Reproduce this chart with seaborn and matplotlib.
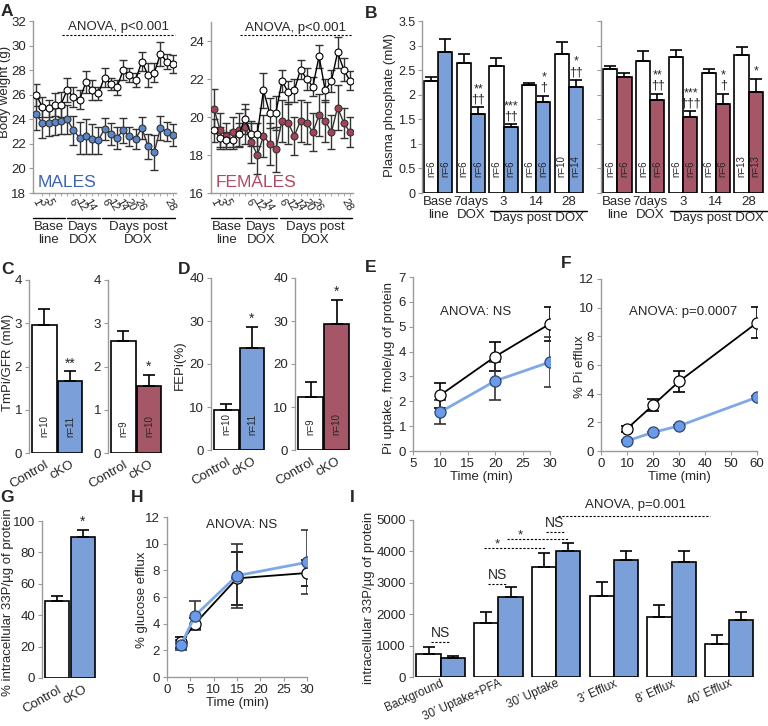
import numpy as np
import pandas as pd
import matplotlib
matplotlib.use("Agg")
import matplotlib.pyplot as plt
import seaborn as sns

sns.set_style("ticks")
plt.rcParams['font.family'] = ['Liberation Sans', 'DejaVu Sans']
plt.rcParams['font.size'] = 9

# ---------------- data ----------------
# A: body weight, 23 measurements
a_male_ctrl = [26.0, 25.0, 24.9, 25.2, 25.2, 26.4, 25.8, 25.6, 27.0, 26.4, 26.1, 27.4,
               26.9, 26.6, 28.0, 27.6, 27.2, 28.7, 27.6, 27.8, 29.3, 28.7, 28.5]
a_male_ctrl_err = [0.9, 0.8, 0.7, 0.9, 1.0, 1.0, 0.8, 0.8, 0.9, 0.8, 0.5, 0.8,
                   0.5, 0.6, 0.8, 0.6, 0.6, 0.8, 1.0, 0.8, 1.0, 0.6, 0.7]
a_male_cko = [24.4, 23.7, 23.7, 23.8, 23.9, 24.0, 23.1, 22.5, 22.6, 22.4, 22.3, 23.2,
              22.8, 22.5, 23.1, 22.6, 22.4, 23.3, 21.8, 21.3, 23.3, 23.0, 22.7]
a_male_cko_err = [1.3, 1.2, 1.1, 1.1, 1.1, 1.2, 1.2, 1.3, 1.4, 1.2, 1.1, 0.9,
                  0.9, 0.9, 1.0, 0.8, 0.8, 0.9, 1.0, 1.4, 1.0, 0.8, 0.9]
a_fem_ctrl = [19.3, 18.9, 18.8, 18.8, 19.1, 19.9, 19.1, 19.1, 21.4, 20.2, 20.2, 21.9,
              21.3, 21.4, 22.5, 22.0, 21.6, 23.2, 21.4, 21.9, 23.4, 22.5, 21.9]
a_fem_ctrl_err = [0.6, 0.6, 0.4, 0.5, 0.6, 0.8, 0.6, 0.6, 0.9, 0.8, 0.9, 0.6,
                  0.6, 0.6, 0.5, 0.6, 0.5, 0.6, 0.6, 0.6, 0.8, 0.6, 0.5]
a_fem_cko = [20.4, 19.3, 19.0, 19.2, 19.3, 19.5, 18.7, 18.0, 19.0, 18.6, 18.3, 19.8,
             19.7, 19.0, 19.8, 19.7, 19.2, 20.1, 19.8, 19.2, 20.5, 19.7, 19.2]
a_fem_cko_err = [1.1, 0.9, 0.7, 0.8, 0.9, 0.9, 1.1, 1.0, 1.1, 1.1, 1.2, 1.1,
                 1.1, 1.0, 1.1, 1.1, 1.0, 1.1, 1.1, 0.9, 1.2, 0.8, 0.8]
a_tick_pos = [0, 1.1, 2.2, 5.8, 7.2, 8.7, 11.1, 12.4, 13.7, 15.2, 16.7, 21.5]
a_tick_labels = ['1', '3', '5', '6', '12', '14', '6', '12', '14', '20', '26', '28']
a_groups = ['Base\nline', 'Days\nDOX', 'Days post\nDOX']

# B: plasma phosphate
b_groups = ['Base\nline', '7days\nDOX', '3', '14', '28']
b_male_ctrl = [2.27, 2.65, 2.58, 2.20, 2.82]
b_male_ctrl_err = [0.10, 0.17, 0.17, 0.03, 0.25]
b_male_cko = [2.86, 1.60, 1.35, 1.85, 2.15]
b_male_cko_err = [0.27, 0.14, 0.05, 0.13, 0.15]
b_male_n = [(6, 6), (6, 6), (6, 6), (6, 6), (10, 14)]
b_male_sig = ['', '**\n††', '***\n††', '*\n†', '*\n††']
b_fem_ctrl = [2.52, 2.69, 2.76, 2.44, 2.80]
b_fem_ctrl_err = [0.07, 0.20, 0.14, 0.08, 0.17]
b_fem_cko = [2.37, 1.90, 1.54, 1.82, 2.06]
b_fem_cko_err = [0.07, 0.12, 0.12, 0.20, 0.26]
b_fem_n = [(6, 6), (6, 6), (6, 6), (6, 6), (13, 13)]
b_fem_sig = ['', '**\n††', '***\n†††', '*\n†', '*']

# C, D, G: two-bar panels
genotypes = ['Control', 'cKO']
c_male = [2.95, 1.67]; c_male_err = [0.37, 0.22]; c_male_n = [10, 11]
c_fem = [2.58, 1.56]; c_fem_err = [0.25, 0.25]; c_fem_n = [9, 10]
d_male = [9.3, 23.8]; d_male_err = [1.3, 4.7]; d_male_n = [10, 11]
d_fem = [12.4, 29.3]; d_fem_err = [3.4, 5.6]; d_fem_n = [9, 10]
g_vals = [49.0, 89.5]; g_err = [3.5, 4.5]

# E: Pi uptake
e_time = [10, 20, 30]
e_ctrl = [2.25, 3.80, 5.12]; e_ctrl_err = [0.50, 0.60, 0.68]
e_cko = [1.57, 2.82, 3.58]; e_cko_err = [0.50, 0.75, 1.02]
# F: Pi efflux
f_time = [10, 20, 30, 60]
f_ctrl = [1.55, 3.20, 4.85, 8.95]; f_ctrl_err = [0.20, 0.42, 0.70, 1.10]
f_cko = [0.70, 1.30, 1.75, 3.75]; f_cko_err = [0.05, 0.06, 0.08, 0.10]
# H: glucose efflux
h_time = [3, 6, 15, 30]
h_ctrl = [2.6, 4.0, 7.4, 7.8]; h_ctrl_err = [0.4, 0.4, 2.0, 1.0]
h_cko = [2.4, 4.6, 7.6, 8.6]; h_cko_err = [0.4, 1.1, 2.4, 2.4]
# I: intracellular 33P
i_groups = ['Background', '30’ Uptake+PFA', '30’ Uptake', '3’ Efflux', '8’ Efflux', '40’ Efflux']
i_ctrl = [740, 1720, 3500, 2570, 1920, 1040]
i_ctrl_err = [220, 350, 450, 450, 380, 310]
i_cko = [600, 2560, 4000, 3740, 3660, 1800]
i_cko_err = [80, 300, 280, 280, 360, 270]

# ---------------- style ----------------
GREY = '#9a9a9a'
BLUE = '#6b9be8'
LBLUE = '#80a8e6'
RED = '#b24a5f'
MBLUE = '#5b86c9'
FRED = '#a5425a'

W, H = 768, 726
fig = plt.figure(figsize=(W / 100, H / 100), dpi=100)
fig.patch.set_facecolor('white')


def px_axes(left, top, right, bottom):
    return fig.add_axes([left / W, 1 - bottom / H, (right - left) / W, (bottom - top) / H])


def style(ax, bottom=True):
    sns.despine(ax=ax, bottom=not bottom)
    for s in ('left', 'bottom'):
        ax.spines[s].set_color(GREY)
        ax.spines[s].set_linewidth(1.0)
    ax.tick_params(color=GREY, length=3, labelsize=9, pad=2)
    if not bottom:
        ax.tick_params(axis='x', length=0, pad=3)


def ylabel_px(ax, text, x, y, size=9):
    ax.set_ylabel(text, fontsize=size)
    ax.yaxis.set_label_coords(x / W, 1 - y / H, transform=fig.transFigure)


def bar_errors(ax, errs):
    bars = sorted(ax.patches, key=lambda p: p.get_x())
    xs = [p.get_x() + p.get_width() / 2 for p in bars]
    hs = [p.get_height() for p in bars]
    ax.errorbar(xs, hs, yerr=[np.zeros(len(errs)), errs], fmt='none', ecolor='black',
                elinewidth=1.2, capsize=4, capthick=1.2, zorder=3)
    return xs, hs


def interleave(a, b):
    out = []
    for u, v in zip(a, b):
        out += [u, v]
    return out


def weight_panel(ax, ctrl, ctrl_err, cko, cko_err, col, ylim, yticks, sex, sexcol, anova_y, line_y):
    x = np.arange(len(ctrl))
    ax.errorbar(x, ctrl, yerr=ctrl_err, fmt='none', ecolor='#333333', elinewidth=1.0,
                capsize=3, capthick=1.0, zorder=2)
    ax.errorbar(x, cko, yerr=cko_err, fmt='none', ecolor='#333333', elinewidth=1.0,
                capsize=3, capthick=1.0, zorder=2)
    sns.lineplot(x=x, y=ctrl, ax=ax, color='black', lw=1.0, marker='o', markersize=5,
                 markerfacecolor='white', markeredgecolor='black', markeredgewidth=0.8, zorder=4)
    sns.lineplot(x=x, y=cko, ax=ax, color='#333333', lw=1.0, marker='o', markersize=5,
                 markerfacecolor=col, markeredgecolor='#333333', markeredgewidth=0.8, zorder=3)
    ax.set_xlim(-0.5, len(ctrl) - 0.5)
    ax.set_ylim(*ylim)
    ax.set_yticks(yticks)
    style(ax)
    ax.tick_params(axis='y', labelsize=9.5)
    ax.set_xticks(x, minor=True)
    ax.set_xticks(a_tick_pos)
    ax.set_xticklabels(a_tick_labels, rotation=-60, ha='center', va='top', fontsize=8)
    ax.tick_params(axis='x', which='major', length=0, pad=3)
    ax.tick_params(axis='x', which='minor', length=2.5, color=GREY)
    tr = ax.get_xaxis_transform()
    for (x0, x1), lab in zip([(-0.5, 4.6), (5.0, 10.2), (10.6, 22.3)], a_groups):
        ax.plot([x0, x1], [-0.145, -0.145], color='black', lw=1.0, transform=tr, clip_on=False)
        ax.text((x0 + x1) / 2, -0.165, lab, transform=tr, ha='center', va='top',
                fontsize=9.5, linespacing=1.05)
    ax.plot([4.2, 22.4], [line_y, line_y], ls=(0, (2, 1.5)), color='black', lw=0.8)
    ax.text(13.2, anova_y, 'ANOVA, p<0.001', ha='center', va='center', fontsize=9.5)
    ax.text(0.3, ylim[0] + 0.06 * (ylim[1] - ylim[0]), sex, color=sexcol, fontsize=12.5,
            ha='left', va='center')


# ---------------- A ----------------
axA1 = px_axes(33, 21, 176, 193)
weight_panel(axA1, a_male_ctrl, a_male_ctrl_err, a_male_cko, a_male_cko_err, MBLUE,
             (18, 32), range(18, 33, 2), 'MALES', '#3d63b3', 31.55, 30.9)
ylabel_px(axA1, 'Body weight (g)', 11, 92, size=9.5)

axA2 = px_axes(211, 22, 353, 193)
weight_panel(axA2, a_fem_ctrl, a_fem_ctrl_err, a_fem_cko, a_fem_cko_err, FRED,
             (16, 25), range(16, 25, 2), 'FEMALES', '#b04a62', 24.7, 24.3)


# ---------------- B ----------------
def phosphate_panel(ax, ctrl, ctrl_err, cko, cko_err, ns, sigs, col, labels_on):
    df = pd.DataFrame({'group': np.repeat(b_groups, 2),
                       'genotype': genotypes * len(b_groups),
                       'value': interleave(ctrl, cko)})
    sns.barplot(data=df, x='group', y='value', hue='genotype', hue_order=genotypes,
                palette={'Control': 'white', 'cKO': col}, errorbar=None, width=0.86,
                edgecolor='black', linewidth=1.2, legend=False, ax=ax)
    xs, hs = bar_errors(ax, interleave(ctrl_err, cko_err))
    errs = interleave(ctrl_err, cko_err)
    nn = [v for pair in ns for v in pair]
    for k, (x, h) in enumerate(zip(xs, hs)):
        ax.text(x, 0.32, f'n={nn[k]}', rotation=90, ha='center', va='bottom', fontsize=7)
        if k % 2 == 1 and sigs[k // 2]:
            ax.text(x + 0.02, h + errs[k] + 0.04, sigs[k // 2], ha='center', va='bottom',
                    fontsize=9, linespacing=0.8)
    ax.set_xlim(-0.5, 4.5)
    ax.set_ylim(0, 3.5)
    ticks = np.arange(0, 3.51, 0.5)
    ax.set_yticks(ticks)
    ax.set_yticklabels([f'{t:g}' for t in ticks] if labels_on else [])
    ax.set_xlabel('')
    ax.set_ylabel('')
    style(ax, bottom=False)
    ax.tick_params(axis='x', labelsize=9.5, pad=2)
    ax.tick_params(axis='y', labelsize=9, pad=1.5)
    for lab in ax.get_xticklabels():
        lab.set_linespacing(1.1)
        lab.set_va('top')
    tr = ax.get_xaxis_transform()
    ax.plot([1.6, 4.55], [-0.105, -0.105], color='black', lw=1.0, transform=tr, clip_on=False)
    ax.text(3.08, -0.112, 'Days post DOX', transform=tr, ha='center', va='top', fontsize=9.5)


axB1 = px_axes(422, 21, 585, 193)
phosphate_panel(axB1, b_male_ctrl, b_male_ctrl_err, b_male_cko, b_male_cko_err,
                b_male_n, b_male_sig, BLUE, True)
ylabel_px(axB1, 'Plasma phosphate (mM)', 396, 105, size=9.5)

axB2 = px_axes(601, 21, 765, 193)
phosphate_panel(axB2, b_fem_ctrl, b_fem_ctrl_err, b_fem_cko, b_fem_cko_err,
                b_fem_n, b_fem_sig, RED, False)


# ---------------- C, D, G ----------------
def two_bar(ax, vals, errs, col, ylim, yticks, ns=None, sig='', sig_off=0.0):
    sns.barplot(x=genotypes, y=vals, hue=genotypes, palette=['white', col], errorbar=None,
                width=0.95, edgecolor='black', linewidth=1.2, legend=False, ax=ax)
    xs, hs = bar_errors(ax, errs)
    if ns is not None:
        for x, n in zip(xs, ns):
            ax.text(x, 0.09 * ylim[1], f'n={n}', rotation=90, ha='center', va='bottom', fontsize=7)
    ax.text(xs[1], hs[1] + errs[1] + sig_off, sig, ha='center', va='bottom', fontsize=10,
            clip_on=False)
    ax.set_xlim(-0.6, 1.55)
    ax.set_ylim(*ylim)
    ax.set_yticks(yticks)
    style(ax, bottom=False)
    ax.tick_params(axis='y', labelsize=9.5)
    ax.set_xticks([0, 1])
    ax.set_xticklabels(genotypes, rotation=30, ha='right', rotation_mode='anchor', fontsize=9.5)
    ax.tick_params(axis='x', pad=4)


axC1 = px_axes(29, 280, 84, 453)
two_bar(axC1, c_male, c_male_err, BLUE, (0, 4), range(0, 5), c_male_n, '**', 0.02)
ylabel_px(axC1, 'TmPi/GFR (mM)', 14, 362, size=9.5)
axC2 = px_axes(108, 280, 163, 453)
two_bar(axC2, c_fem, c_fem_err, RED, (0, 4), range(0, 5), c_fem_n, '*', 0.02)

axD1 = px_axes(211, 278, 266, 450)
two_bar(axD1, d_male, d_male_err, BLUE, (0, 40), range(0, 41, 10), d_male_n, '*', 0.3)
ylabel_px(axD1, 'FEPi(%)', 186, 365, size=9.5)
axD2 = px_axes(295, 278, 351, 450)
two_bar(axD2, d_fem, d_fem_err, RED, (0, 40), range(0, 41, 10), d_fem_n, '*', 0.3)

axG = px_axes(42, 521, 97, 678)
two_bar(axG, g_vals, g_err, BLUE, (0, 100), range(0, 101, 20), None, '*', 1.0)
ylabel_px(axG, '% intracellular 33P/µg of protein', 14, 602, size=9.5)


# ---------------- E, F, H ----------------
def time_panel(ax, t, ctrl, ctrl_err, cko, cko_err, xlim, xticks, ylim, yticks, txt, txt_xy):
    ax.errorbar(t, ctrl, yerr=ctrl_err, fmt='none', ecolor='black', elinewidth=1.2,
                capsize=4, capthick=1.2, zorder=2)
    ax.errorbar(t, cko, yerr=cko_err, fmt='none', ecolor='#333333', elinewidth=1.2,
                capsize=4, capthick=1.2, zorder=2)
    sns.lineplot(x=t, y=ctrl, ax=ax, color='black', lw=1.3, marker='o', markersize=8,
                 markerfacecolor='white', markeredgecolor='black', markeredgewidth=0.9, zorder=3)
    sns.lineplot(x=t, y=cko, ax=ax, color=LBLUE, lw=2.0, marker='o', markersize=8,
                 markerfacecolor=BLUE, markeredgecolor='#2c4670', markeredgewidth=0.9, zorder=4)
    ax.set_xlim(*xlim)
    ax.set_ylim(*ylim)
    ax.set_xticks(xticks)
    ax.set_yticks(yticks)
    style(ax)
    ax.tick_params(axis='both', labelsize=9.5)
    ax.set_xlabel('Time (min)', fontsize=9.5, labelpad=1)
    ax.text(*txt_xy, txt, ha='center', va='center', fontsize=9.5)


axE = px_axes(413, 277, 550, 451)
time_panel(axE, e_time, e_ctrl, e_ctrl_err, e_cko, e_cko_err, (5, 30), range(5, 31, 5),
           (0, 7), range(0, 8), 'ANOVA: NS', (16.5, 5.6))
ylabel_px(axE, 'Pi uptake, fmole/µg of protein', 395, 368, size=9.5)

axF = px_axes(601, 279, 757, 451)
time_panel(axF, f_time, f_ctrl, f_ctrl_err, f_cko, f_cko_err, (0, 60), range(0, 61, 10),
           (0, 12), range(0, 13, 2), 'ANOVA: p=0.0007', (31.5, 9.7))
ylabel_px(axF, '% Pi efflux', 586, 367, size=9.5)

axH = px_axes(167, 517, 307, 677)
time_panel(axH, h_time, h_ctrl, h_ctrl_err, h_cko, h_cko_err, (0, 30), range(0, 31, 5),
           (0, 12), range(0, 13, 2), 'ANOVA: NS', (15.9, 11.4))
ylabel_px(axH, '% glucose efflux', 148, 600, size=9.5)

# ---------------- I ----------------
axI = px_axes(413, 520, 761, 677)
dfI = pd.DataFrame({'group': np.repeat(i_groups, 2),
                    'genotype': genotypes * len(i_groups),
                    'value': interleave(i_ctrl, i_cko)})
sns.barplot(data=dfI, x='group', y='value', hue='genotype', hue_order=genotypes,
            palette={'Control': 'white', 'cKO': BLUE}, errorbar=None, width=0.84,
            edgecolor='black', linewidth=1.2, legend=False, ax=axI)
bar_errors(axI, interleave(i_ctrl_err, i_cko_err))
axI.set_xlim(-0.48, 5.55)
axI.set_ylim(0, 5000)
axI.set_yticks(range(0, 5001, 1000))
axI.set_xlabel('')
style(axI, bottom=False)
axI.tick_params(axis='y', labelsize=9.5)
axI.set_xticks(range(len(i_groups)))
axI.set_xticklabels(i_groups, rotation=24, ha='right', rotation_mode='anchor', fontsize=8.5)
axI.tick_params(axis='x', pad=0.5)
ylabel_px(axI, 'intracellular 33P/µg of protein', 375, 598, size=9.5)

dash = (0, (2, 1.5))
for x0, x1, y, lab, ty in [(-0.16, 0.15, 1115, 'NS', 1400),
                           (0.82, 1.13, 2960, 'NS', 3250),
                           (0.75, 1.82, 4110, '*', 4230),
                           (1.15, 2.21, 4390, '*', 4520),
                           (1.82, 2.13, 4620, 'NS', 4900)]:
    axI.plot([x0, x1], [y, y], ls=dash, color='black', lw=0.8, clip_on=False)
    cx = x0 + 0.16 if lab == 'NS' else x0 + 0.23
    axI.text(cx, ty, lab, ha='center', va='center', fontsize=10 if lab == 'NS' else 9.5,
             clip_on=False)
axI.plot([2.04, 4.67], [5130, 5130], ls=dash, color='black', lw=0.8, clip_on=False)
axI.text(3.37, 5480, 'ANOVA, p=0.001', ha='center', va='center', fontsize=9.5, clip_on=False)

# ---------------- panel letters ----------------
for lab, x, y in [('A', 7, 12), ('B', 371, 13), ('C', 8, 270), ('D', 184, 270),
                  ('E', 371, 267), ('F', 566, 264), ('G', 7, 497), ('H', 137, 497),
                  ('I', 352, 497)]:
    fig.text(x / W, 1 - y / H, lab, fontsize=12.5, fontweight='bold', ha='center', va='center')

fig.savefig('out.png', dpi=100)
